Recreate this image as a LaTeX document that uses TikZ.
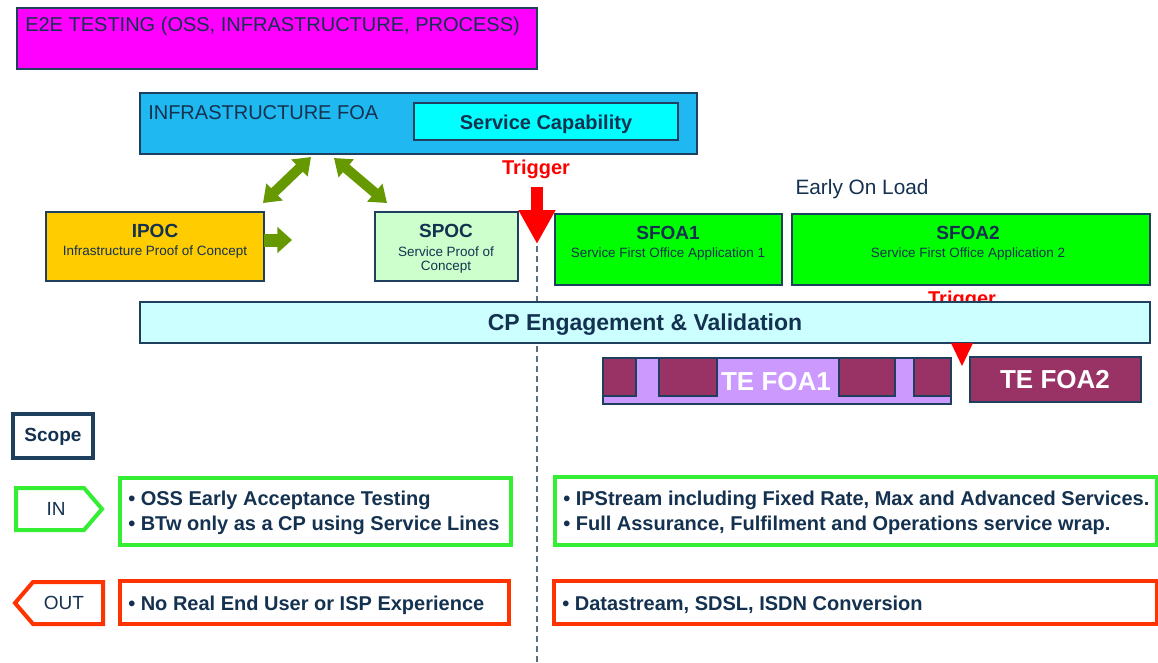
\documentclass[tikz,border=0pt]{standalone}
\usepackage{fontspec}
\setmainfont{Liberation Sans}
\usetikzlibrary{arrows.meta}
\definecolor{navy}{HTML}{143250}
\definecolor{edge}{HTML}{1F3F5F}
\definecolor{magent}{HTML}{FF00FF}
\definecolor{infra}{HTML}{1FB8F0}
\definecolor{svccap}{HTML}{00FFFF}
\definecolor{ipoc}{HTML}{FFCC00}
\definecolor{spoc}{HTML}{CCFFCC}
\definecolor{sfoa}{HTML}{00FF00}
\definecolor{cp}{HTML}{CCFFFF}
\definecolor{tepurple}{HTML}{CC99FF}
\definecolor{crimson}{HTML}{993366}
\definecolor{olivegr}{HTML}{669900}
\definecolor{ingreen}{HTML}{33EE33}
\definecolor{outred}{HTML}{FF3300}
\definecolor{trig}{HTML}{FF0000}
\definecolor{dashc}{HTML}{5A7080}
\newcommand\fT{\fontsize{15pt}{18pt}\selectfont}
\newcommand\fS{\fontsize{10.1pt}{12pt}\selectfont}
\newcommand\fN{\fontsize{14.25pt}{17pt}\selectfont}
\newcommand\fC{\fontsize{17.25pt}{20pt}\selectfont}
\newcommand\fE{\fontsize{19.5pt}{23pt}\selectfont}
\newcommand\fL{\fontsize{15.6pt}{18pt}\selectfont}
\newcommand\bxn[6]{\node[#6, minimum width={(#4-#2)*0.75pt}, minimum height={(#5-#3)*0.75pt}] (#1) at ({(#2+#4)/2},{(#3+#5)/2}) {};}
\begin{document}
\begin{tikzpicture}[x=0.75pt,y=-0.75pt,
  box/.style={draw=edge, line width=0.8pt, inner sep=0pt, outer sep=0pt, rectangle},
  txt/.style={text=navy, inner sep=0pt},
  oarrow/.style={draw=olivegr, line width=7.5pt, {Triangle[width=17pt,length=12pt]}-{Triangle[width=17pt,length=12pt]}},
  rarrow/.style={draw=olivegr, line width=9.75pt, -{Triangle[width=19pt,length=11pt]}},
  trarrow/.style={draw=trig, line width=9pt, -{Triangle[width=26pt,length=25.5pt]}},
  inline/.style={draw=ingreen, line width=3pt},
  outline/.style={draw=outred, line width=3pt},
  dline/.style={draw=dashc, line width=0.8pt, dash pattern=on 4.5pt off 3pt}]
\useasboundingbox (0,0) rectangle (1158,662);
\clip (0,0) rectangle (1158,662);
\fill[white] (0,0) rectangle (1158,662);

% top boxes
\bxn{e2e}{17}{8}{537}{69}{box, fill=magent}
\node[txt, anchor=base west, font=\fT] (e2etxt) at (25,31) {E2E TESTING (OSS, INFRASTRUCTURE, PROCESS)};

\bxn{infra}{140}{93}{697}{154}{box, fill=infra}
\node[txt, anchor=base west, font=\fT] (infratxt) at (148,119) {INFRASTRUCTURE FOA};
\bxn{svc}{414}{103}{678}{140}{box, fill=svccap}
\node[txt, font=\fT\bfseries] (svctxt) at (546,124) {Service Capability};

% dashed divider
\coordinate (dtop) at (537,246);
\coordinate (dbot) at (537,662);
\draw[dline] (dtop) -- (dbot);

% trigger 1
\node[text=trig, inner sep=0pt, font=\fT\bfseries] (trig1) at (536,169) {Trigger};
\coordinate (tr1a) at (537,187);
\coordinate (tr1b) at (537,244);
\draw[trarrow] (tr1a) -- (tr1b);

\node[txt, font=\fL] (early) at (862,189) {Early On Load};

% middle boxes
\bxn{ipoc}{46}{212}{264}{281}{box, fill=ipoc}
\node[txt, font=\fN\bfseries] (ipoct) at (155,231) {IPOC};
\node[txt, font=\fS] (ipocs) at (155,252) {Infrastructure Proof of Concept};

\bxn{spoc}{375}{212}{518}{281}{box, fill=spoc}
\node[txt, font=\fN\bfseries] (spoct) at (446,231) {SPOC};
\node[txt, font=\fS] (spocs1) at (446,252) {Service Proof of};
\node[txt, font=\fS] (spocs2) at (446,267) {Concept};

\bxn{sfoa1}{555}{214}{782}{285}{box, fill=sfoa}
\node[txt, font=\fN\bfseries] (sfoa1t) at (668,233) {SFOA1};
\node[txt, font=\fS] (sfoa1s) at (668,254) {Service First Office Application 1};

\bxn{sfoa2}{792}{214}{1150}{285}{box, fill=sfoa}
\node[txt, font=\fN\bfseries] (sfoa2t) at (968,233) {SFOA2};
\node[txt, font=\fS] (sfoa2s) at (968,254) {Service First Office Application 2};

% olive arrows
\coordinate (a1s) at (311,157);
\coordinate (a1e) at (263,203);
\coordinate (a2s) at (334,158);
\coordinate (a2e) at (387,203);
\draw[oarrow] (a1s) -- (a1e);
\draw[oarrow] (a2s) -- (a2e);
\coordinate (a3s) at (264,240);
\coordinate (a3e) at (292,240);
\draw[rarrow] (a3s) -- (a3e);

% trigger 2 (partly hidden by CP box)
\node[text=trig, inner sep=0pt, font=\fT\bfseries] (trig2) at (962,300) {Trigger};

\bxn{cp}{140}{302}{1150}{343}{box, fill=cp}
\node[txt, font=\fC\bfseries] (cptxt) at (645,325) {CP Engagement \& Validation};

\coordinate (tr2) at (962,366);
\fill[trig] (951,343) -- (973,343) -- (tr2) -- cycle;

% TE FOA1
\bxn{tefoa1}{603}{358}{951}{404}{box, fill=tepurple}
\bxn{blk1}{603}{358}{636}{396}{box, fill=crimson}
\bxn{blk2}{659}{358}{717}{396}{box, fill=crimson}
\bxn{blk3}{839}{358}{895}{396}{box, fill=crimson}
\bxn{blk4}{914}{358}{951}{396}{box, fill=crimson}
\node[text=white, inner sep=0pt, font=\fE\bfseries] (tefoa1t) at (776,382) {TE FOA1};

\bxn{tefoa2}{970}{357}{1141}{402}{box, fill=crimson}
\node[text=white, inner sep=0pt, font=\fE\bfseries] (tefoa2t) at (1055,380) {TE FOA2};

% scope
\bxn{scope}{13}{414}{93}{458}{draw=edge, line width=2.6pt, inner sep=0pt, fill=white}
\node[txt, font=\fN\bfseries] (scopet) at (53,437) {Scope};

% IN
\draw[inline] (16,488) -- (84,488) -- (102,509) -- (84,530) -- (16,530) -- cycle;
\node[txt, font=\fN] (intxt) at (56,509) {IN};
\bxn{inl}{120}{478}{511}{545}{inline, inner sep=0pt}
\node[txt, anchor=base west, font=\fT\bfseries] (inl1) at (128,505) {• OSS Early Acceptance Testing};
\node[txt, anchor=base west, font=\fT\bfseries] (inl2) at (128,530) {• BTw only as a CP using Service Lines};
\bxn{inr}{555}{477}{1157}{545}{inline, inner sep=0pt}
\node[txt, anchor=base west, font=\fT\bfseries] (inr1) at (563,505) {• IPStream including Fixed Rate, Max and Advanced Services.};
\node[txt, anchor=base west, font=\fT\bfseries] (inr2) at (563,530) {• Full Assurance, Fulfilment and Operations service wrap.};

% OUT
\draw[outline] (103,582) -- (33,582) -- (15,603) -- (33,624) -- (103,624) -- cycle;
\node[txt, font=\fN] (outtxt) at (64,603) {OUT};
\bxn{outl}{120}{581}{509}{624}{outline, inner sep=0pt}
\node[txt, anchor=base west, font=\fT\bfseries] (outl1) at (128,610) {• No Real End User or ISP Experience};
\bxn{outr}{554}{581}{1157}{624}{outline, inner sep=0pt}
\node[txt, anchor=base west, font=\fT\bfseries] (outr1) at (562,610) {• Datastream, SDSL, ISDN Conversion};
\end{tikzpicture}
\end{document}
